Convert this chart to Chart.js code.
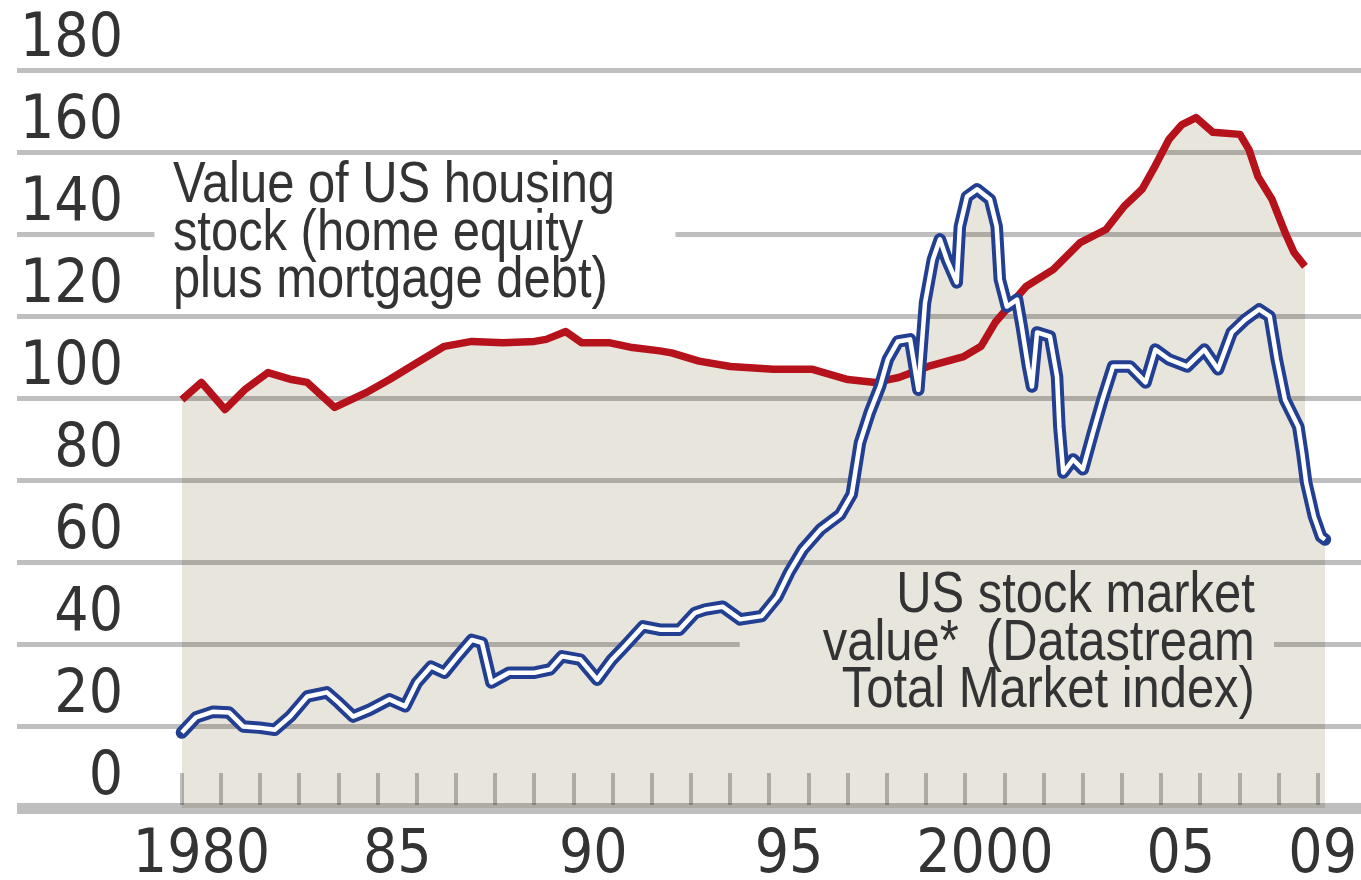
<!DOCTYPE html>
<html>
<head>
<meta charset="utf-8">
<script src="https://cdn.jsdelivr.net/npm/chart.js@4.4.1/dist/chart.umd.min.js"></script>
<style>
  html, body { margin: 0; padding: 0; background: #ffffff; }
  #chart { display: block; }
</style>
</head>
<body>
<canvas id="chart" width="1361" height="880"></canvas>
<script>
// Value of US housing stock (home equity plus mortgage debt)
const housingYears = [
  1980.0, 1980.5, 1981.1, 1981.6, 1982.2, 1982.8, 1983.2, 1983.9, 1984.7, 1985.3,
  1986.0, 1986.7, 1987.4, 1988.2, 1989.0, 1989.3, 1989.8, 1990.2, 1990.9, 1991.5,
  1992.2, 1992.5, 1993.2, 1994.0, 1995.1, 1996.1, 1997.0, 1997.7, 1998.3, 1999.05,
  1999.96, 2000.4, 2000.76, 2001.55, 2002.24, 2002.93, 2003.59, 2004.05, 2004.51, 2004.84,
  2005.2, 2005.53, 2005.89, 2006.32, 2007.01, 2007.24, 2007.47, 2007.83, 2008.16, 2008.39,
  2008.67
];
const housingValues = [
  99.6, 103.8, 97.2, 102.0, 106.2, 104.5, 103.8, 97.7, 101.3, 104.5,
  108.6, 112.6, 113.8, 113.5, 113.8, 114.3, 116.2, 113.5, 113.5, 112.3,
  111.5, 111.0, 109.0, 107.7, 107.0, 107.0, 104.5, 103.8, 105.0, 107.7,
  110.1, 112.6, 118.4, 127.2, 131.3, 137.9, 141.1, 146.7, 150.9, 156.5,
  163.1, 166.7, 168.4, 164.8, 164.3, 160.6, 154.0, 148.4, 140.4, 135.5,
  132.1
];

// US stock market value (Datastream Total Market index)
const stockYears = [
  1980.0, 1980.36, 1980.8, 1981.2, 1981.56, 1981.97, 1982.37, 1982.76, 1983.2, 1983.7,
  1984.0, 1984.37, 1984.8, 1985.3, 1985.7, 1986.0, 1986.36, 1986.7, 1987.04, 1987.4,
  1987.66, 1987.9, 1988.35, 1989.0, 1989.4, 1989.7, 1990.17, 1990.6, 1990.98, 1991.3,
  1991.77, 1992.2, 1992.7, 1993.1, 1993.35, 1993.8, 1994.25, 1994.8, 1995.2, 1995.5,
  1995.85, 1996.3, 1996.8, 1997.1, 1997.31, 1997.56, 1997.82, 1998.02, 1998.28, 1998.59,
  1998.8, 1998.97, 1999.17, 1999.35, 1999.53, 1999.78, 1999.86, 2000.04, 2000.3, 2000.63,
  2000.8, 2000.88, 2001.06, 2001.32, 2001.44, 2001.6, 2001.7, 2001.83, 2002.16, 2002.34,
  2002.4, 2002.5, 2002.75, 2003.0, 2003.26, 2003.5, 2003.77, 2004.2, 2004.6, 2004.85,
  2005.2, 2005.66, 2006.1, 2006.45, 2006.8, 2007.14, 2007.5, 2007.77, 2007.95, 2008.16,
  2008.5, 2008.6, 2008.7, 2008.9, 2009.08, 2009.18
];
const stockValues = [
  18.4, 22.1, 23.5, 23.3, 19.9, 19.6, 19.1, 22.3, 27.2, 28.2,
  25.7, 22.3, 24.0, 26.5, 24.8, 30.6, 34.5, 33.0, 37.0, 41.0,
  40.3, 30.6, 33.0, 33.0, 33.8, 37.0, 36.2, 31.3, 36.2, 39.4,
  44.3, 43.5, 43.5, 47.6, 48.4, 49.1, 46.0, 46.8, 51.5, 57.4,
  63.0, 67.9, 71.5, 76.5, 89.1, 96.5, 102.8, 109.4, 113.8, 114.3,
  102.0, 123.2, 133.7, 138.7, 133.7, 128.2, 141.8, 149.1, 150.9, 148.4,
  141.8, 128.9, 122.3, 124.0, 117.4, 107.7, 102.8, 116.0, 115.0, 105.2,
  93.0, 81.8, 85.0, 82.6, 91.6, 99.6, 107.7, 107.7, 103.8, 111.8,
  109.4, 107.7, 111.8, 107.0, 116.0, 119.1, 121.6, 119.9, 109.4, 99.6,
  93.0, 86.7, 79.4, 71.1, 66.2, 65.5
];

// x axis labels
const xLabelYears = [1980, 1985, 1990, 1995, 2000, 2005, 2009];
const xLabelText = ['1980', '85', '90', '95', '2000', '05', '09'];
const firstTickYear = 1980;
const lastTickYear = 2009;

// text notes on the chart
const noteTexts = [
  ['Value of US housing', 'stock (home equity', 'plus mortgage debt)'],
  ['US stock market', 'value*  (Datastream', 'Total Market index)']
];

const RED = '#b5121b';
const BLUE = '#223f92';
const FILL = '#e8e5dc';
const GRID = 'rgba(0,0,0,0.25)';
const TEXT = '#333333';
const NUM_FONT = "'DejaVu Sans Condensed', 'DejaVu Sans', sans-serif";
const NOTE_FONT = "'Liberation Sans', Arial, sans-serif";
const NOTE_SQUEEZE = 0.843; // the notes use a narrow face

// where the notes sit (data units) and the box they blank out
const notes = [
  { lines: noteTexts[0], year: 1979.77, value: 147.7, align: 'left', bg: '#ffffff',
    box: [1979.3, 1992.6, 158.4, 121.3] },
  { lines: noteTexts[1], year: 2007.39, value: 47.7, align: 'right', bg: FILL,
    box: [1994.24, 2007.88, 57.7, 21.3] }
];

const toPoints = (xs, ys) => xs.map((x, i) => ({ x: x, y: ys[i] }));

const overlay = {
  id: 'overlay',
  beforeDatasetsDraw(chart) {
    const { ctx, scales: { x, y } } = chart;
    const base = y.getPixelForValue(0);
    ctx.save();

    // yearly tick marks standing on the base line
    ctx.strokeStyle = GRID;
    ctx.lineWidth = 4;
    for (let yr = firstTickYear; yr <= lastTickYear; yr++) {
      const px = Math.round(x.getPixelForValue(yr));
      ctx.beginPath();
      ctx.moveTo(px, base - 35);
      ctx.lineTo(px, base - 3);
      ctx.stroke();
    }

    // notes, with a plain box behind so the grid stops under them
    notes.forEach(n => {
      const [x0, x1, v0, v1] = n.box;
      ctx.fillStyle = n.bg;
      const bx = x.getPixelForValue(x0), by = y.getPixelForValue(v0);
      ctx.fillRect(bx, by, x.getPixelForValue(x1) - bx, y.getPixelForValue(v1) - by);

      ctx.save();
      ctx.translate(x.getPixelForValue(n.year), y.getPixelForValue(n.value));
      ctx.scale(NOTE_SQUEEZE, 1);
      ctx.fillStyle = TEXT;
      ctx.font = '58px ' + NOTE_FONT;
      ctx.textAlign = n.align;
      ctx.textBaseline = 'alphabetic';
      n.lines.forEach((line, i) => ctx.fillText(line, 0, i * 47.5));
      ctx.restore();
    });

    // year labels, centred on the year, kept inside the canvas
    ctx.font = '60px ' + NUM_FONT;
    ctx.textAlign = 'center';
    ctx.textBaseline = 'alphabetic';
    ctx.fillStyle = TEXT;
    xLabelYears.forEach((yr, i) => {
      const w = ctx.measureText(xLabelText[i]).width;
      let cx = x.getPixelForValue(yr + 0.5);
      cx = Math.min(cx, chart.width - 4 - w / 2);
      ctx.fillText(xLabelText[i], cx, base + 64);
    });

    ctx.restore();
  }
};

const chart = new Chart(document.getElementById('chart'), {
  type: 'line',
  data: {
    datasets: [
      {
        label: 'stock inner',
        data: toPoints(stockYears, stockValues),
        borderColor: '#ffffff',
        borderWidth: 4.5,
        borderJoinStyle: 'round',
        pointRadius: 0,
        fill: false,
        order: 0
      },
      {
        label: 'US stock market value',
        data: toPoints(stockYears, stockValues),
        borderColor: BLUE,
        borderWidth: 12.5,
        borderJoinStyle: 'round',
        borderCapStyle: 'round',
        backgroundColor: FILL,
        pointRadius: 0,
        fill: 'origin',
        order: 1
      },
      {
        label: 'Value of US housing stock',
        data: toPoints(housingYears, housingValues),
        borderColor: RED,
        borderWidth: 7.5,
        borderJoinStyle: 'round',
        backgroundColor: FILL,
        pointRadius: 0,
        fill: 'origin',
        order: 2
      }
    ]
  },
  options: {
    responsive: false,
    animation: false,
    devicePixelRatio: 1,
    layout: { padding: { top: 70, left: 11, right: 0, bottom: 0 } },
    plugins: {
      legend: { display: false },
      tooltip: { enabled: false },
      filler: { drawTime: 'beforeDraw', propagate: false }
    },
    scales: {
      x: {
        type: 'linear',
        min: 1975.79,
        max: 2010.1,
        grid: { display: false },
        border: { display: false },
        ticks: { display: false },
        afterFit(scale) { scale.height = 72; }
      },
      y: {
        min: 0,
        max: 180,
        border: { display: false },
        grid: {
          color: GRID,
          lineWidth: c => (c.tick && c.tick.value === 0 ? 11 : 5),
          drawTicks: false
        },
        ticks: {
          stepSize: 20,
          mirror: true,
          crossAlign: 'far',
          padding: 3,
          labelOffset: -30,
          color: TEXT,
          font: { family: NUM_FONT, size: 60 }
        }
      }
    }
  },
  plugins: [overlay]
});
</script>
</body>
</html>
